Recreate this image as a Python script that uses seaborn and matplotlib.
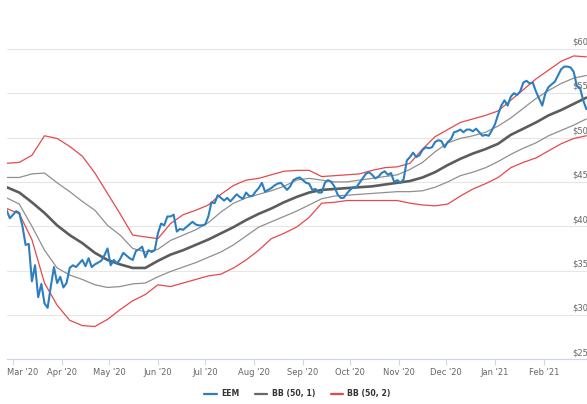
import pandas as pd
import seaborn as sns
import matplotlib.pyplot as plt
from matplotlib.lines import Line2D

sns.set_style('white')
plt.rcParams['font.family'] = ['DejaVu Sans']

# EEM closing price, one reading every 2 days from 26 Feb 2020
eem = [41.8, 40.9, 41.3, 41.7, 41.5, 40.0, 37.9, 38.0, 33.8, 35.6,
       32.0, 33.5, 31.3, 30.8, 33.2, 35.4, 33.6, 34.3, 33.1, 33.6,
       35.3, 35.6, 35.4, 35.8, 36.2, 35.5, 36.4, 35.4, 35.7, 35.9,
       36.1, 36.7, 37.5, 35.6, 36.2, 35.8, 36.3, 37.0, 36.7, 36.4,
       36.2, 37.2, 37.4, 37.7, 36.5, 37.3, 37.1, 37.3, 39.2, 40.3,
       40.1, 41.1, 41.1, 41.3, 39.4, 39.7, 39.6, 39.9, 40.2, 40.5,
       40.2, 40.1, 40.1, 40.2, 41.1, 42.7, 42.6, 43.5, 43.2, 42.9,
       43.2, 42.8, 43.2, 43.6, 43.3, 43.1, 43.8, 43.4, 43.4, 43.9,
       44.3, 44.9, 43.9, 44.1, 44.3, 44.6, 44.8, 44.9, 44.5, 44.1,
       44.5, 45.2, 45.4, 45.5, 45.2, 44.9, 44.8, 44.1, 44.2, 43.8,
       43.8, 44.9, 45.2, 45.0, 44.5, 43.6, 43.2, 43.2, 43.7, 44.1,
       44.4, 44.4, 44.9, 45.4, 45.9, 46.1, 45.8, 45.4, 45.6, 46.0,
       46.2, 45.8, 46.0, 45.0, 45.2, 44.9, 45.3, 47.4, 47.8, 48.3,
       47.8, 48.0, 48.6, 48.9, 48.8, 48.9, 49.5, 49.7, 49.6, 48.9,
       49.5, 49.8, 50.6, 50.7, 50.9, 50.6, 50.9, 50.9, 50.7, 51.0,
       50.6, 50.2, 50.3, 50.2, 50.8, 51.5, 52.6, 53.6, 54.2, 53.6,
       54.6, 55.0, 54.8, 55.2, 56.2, 56.4, 56.1, 56.2, 55.2, 54.4,
       53.6, 55.0, 55.7, 56.0, 56.3, 57.0, 57.7, 58.0, 58.0, 57.9,
       57.4, 55.8, 55.6, 54.2, 53.2]

# bollinger bands, one reading every 8 days from 26 Feb 2020
sma = [44.4, 43.8, 42.7, 41.5, 40.1, 39.0, 38.1, 37.0, 36.2, 35.7,
       35.3, 35.3, 36.1, 36.8, 37.3, 37.9, 38.5, 39.2, 39.9, 40.7,
       41.4, 42.0, 42.7, 43.3, 43.8, 44.1, 44.2, 44.3, 44.4, 44.5,
       44.7, 44.9, 45.1, 45.5, 46.1, 46.9, 47.6, 48.2, 48.7, 49.3,
       50.3, 51.0, 51.7, 52.5, 53.1, 53.8, 54.5]
up1 = [45.5, 45.5, 45.9, 46.0, 44.9, 43.9, 42.8, 41.8, 40.1, 39.0,
       37.5, 37.1, 37.4, 38.4, 39.0, 39.6, 40.4, 41.6, 42.6, 43.2,
       43.6, 44.0, 44.5, 45.2, 45.4, 45.2, 45.0, 45.0, 45.2, 45.4,
       45.6, 45.8, 46.4, 47.2, 48.4, 49.4, 49.9, 50.2, 50.6, 51.3,
       52.2, 53.3, 54.4, 55.3, 56.1, 56.7, 57.0]
lo1 = [43.2, 42.5, 40.0, 37.3, 35.3, 34.5, 34.0, 33.4, 33.1, 33.2,
       33.5, 33.6, 34.3, 34.9, 35.4, 35.9, 36.5, 37.1, 37.9, 38.9,
       39.9, 40.5, 41.1, 41.7, 42.4, 43.1, 43.4, 43.5, 43.6, 43.7,
       43.8, 43.9, 43.9, 44.0, 44.4, 45.0, 45.7, 46.1, 46.6, 47.3,
       48.1, 48.8, 49.4, 50.2, 50.8, 51.4, 52.1]
up2 = [47.1, 47.2, 48.0, 50.2, 49.9, 49.0, 47.9, 46.0, 43.7, 41.4,
       39.0, 38.8, 38.6, 40.3, 41.3, 41.8, 42.4, 43.6, 44.6, 45.2,
       45.4, 45.8, 46.2, 46.3, 46.3, 45.6, 45.7, 45.8, 45.9, 46.3,
       46.6, 46.7, 47.1, 48.7, 50.1, 50.9, 51.7, 52.1, 52.5, 53.0,
       54.2, 55.4, 56.6, 57.6, 58.6, 59.2, 59.1]
lo2 = [42.0, 41.4, 38.5, 33.6, 31.1, 29.4, 28.8, 28.7, 29.5, 30.6,
       31.6, 32.3, 33.4, 33.2, 33.6, 34.0, 34.4, 34.6, 35.3, 36.2,
       37.3, 38.6, 39.2, 39.9, 41.0, 42.6, 42.7, 42.9, 42.9, 42.9,
       42.9, 42.9, 42.6, 42.4, 42.3, 42.5, 43.4, 44.2, 44.8, 45.5,
       46.6, 47.2, 47.7, 48.5, 49.3, 49.9, 50.2]

price_ticks = [25, 30, 35, 40, 45, 50, 55, 60, 65]
series_names = ['EEM', 'BB (50, 1)', 'BB (50, 2)']

eem_dates = pd.date_range('2020-02-26', periods=len(eem), freq='2D')
band_dates = pd.date_range('2020-02-26', periods=len(sma), freq='8D')
month_ticks = pd.date_range('2020-03-01', '2021-02-01', freq='MS')
month_labels = [d.strftime("%b '%y") for d in month_ticks]

blue = '#2b7fc0'
red = '#e8484a'
grey = '#8f8f8f'
dark = '#5c5c5c'

fig = plt.figure(figsize=(5.87, 4.04), dpi=100)
ax = fig.add_axes([6.7 / 587, 44.7 / 404, 1 - 6.7 / 587, 354.8 / 404])

# bands first, price on top
sns.lineplot(x=band_dates, y=up2, color=red, lw=0.9, ax=ax)
sns.lineplot(x=band_dates, y=lo2, color=red, lw=0.9, ax=ax)
sns.lineplot(x=band_dates, y=up1, color=grey, lw=0.9, ax=ax)
sns.lineplot(x=band_dates, y=lo1, color=grey, lw=0.9, ax=ax)
sns.lineplot(x=band_dates, y=sma, color=dark, lw=1.9, ax=ax)
sns.lineplot(x=eem_dates, y=eem, color=blue, lw=1.5, ax=ax)

ax.set_xlim(pd.Timestamp('2020-02-26'), pd.Timestamp('2021-02-28 10:00'))
ax.set_ylim(25, 65)
ax.set_xlabel('')
ax.set_ylabel('')

ax.set_yticks(price_ticks)
ax.yaxis.grid(True, color='#e6e6e6', lw=0.8)
ax.xaxis.grid(False)
ax.tick_params(axis='y', left=False, labelleft=False)
for p in price_ticks[:-1]:
    ax.text(0.974, p + 0.25, f'${p}', transform=ax.get_yaxis_transform(),
            ha='left', va='bottom', fontsize=6, color='#666666', zorder=1)

ax.set_xticks(month_ticks)
ax.set_xticklabels([''] + month_labels[1:])
ax.tick_params(axis='x', bottom=True, length=4.5, width=0.8, color='#ccd6eb',
               labelsize=6, labelcolor='#666666', pad=2)
# first label is pushed right so it stays inside the chart
ax.annotate(month_labels[0], xy=(month_ticks[0], 0),
            xycoords=('data', 'axes fraction'), xytext=(6.8, -6.5),
            textcoords='offset points', ha='center', va='top',
            fontsize=6, color='#666666')

for side in ['top', 'left', 'right']:
    ax.spines[side].set_visible(False)
ax.spines['bottom'].set_color('#ccd6eb')
ax.spines['bottom'].set_linewidth(0.8)

handles = [Line2D([], [], color=blue, lw=1.6),
           Line2D([], [], color='#666666', lw=1.6),
           Line2D([], [], color=red, lw=1.6)]
fig.legend(handles, series_names, loc='center', bbox_to_anchor=(0.507, 0.025),
           ncol=3, frameon=False, prop={'weight': 'bold', 'size': 5.6},
           labelcolor='#333333', handlelength=1.55, handletextpad=0.6,
           columnspacing=2.0)

fig.savefig('out.png', dpi=100)
